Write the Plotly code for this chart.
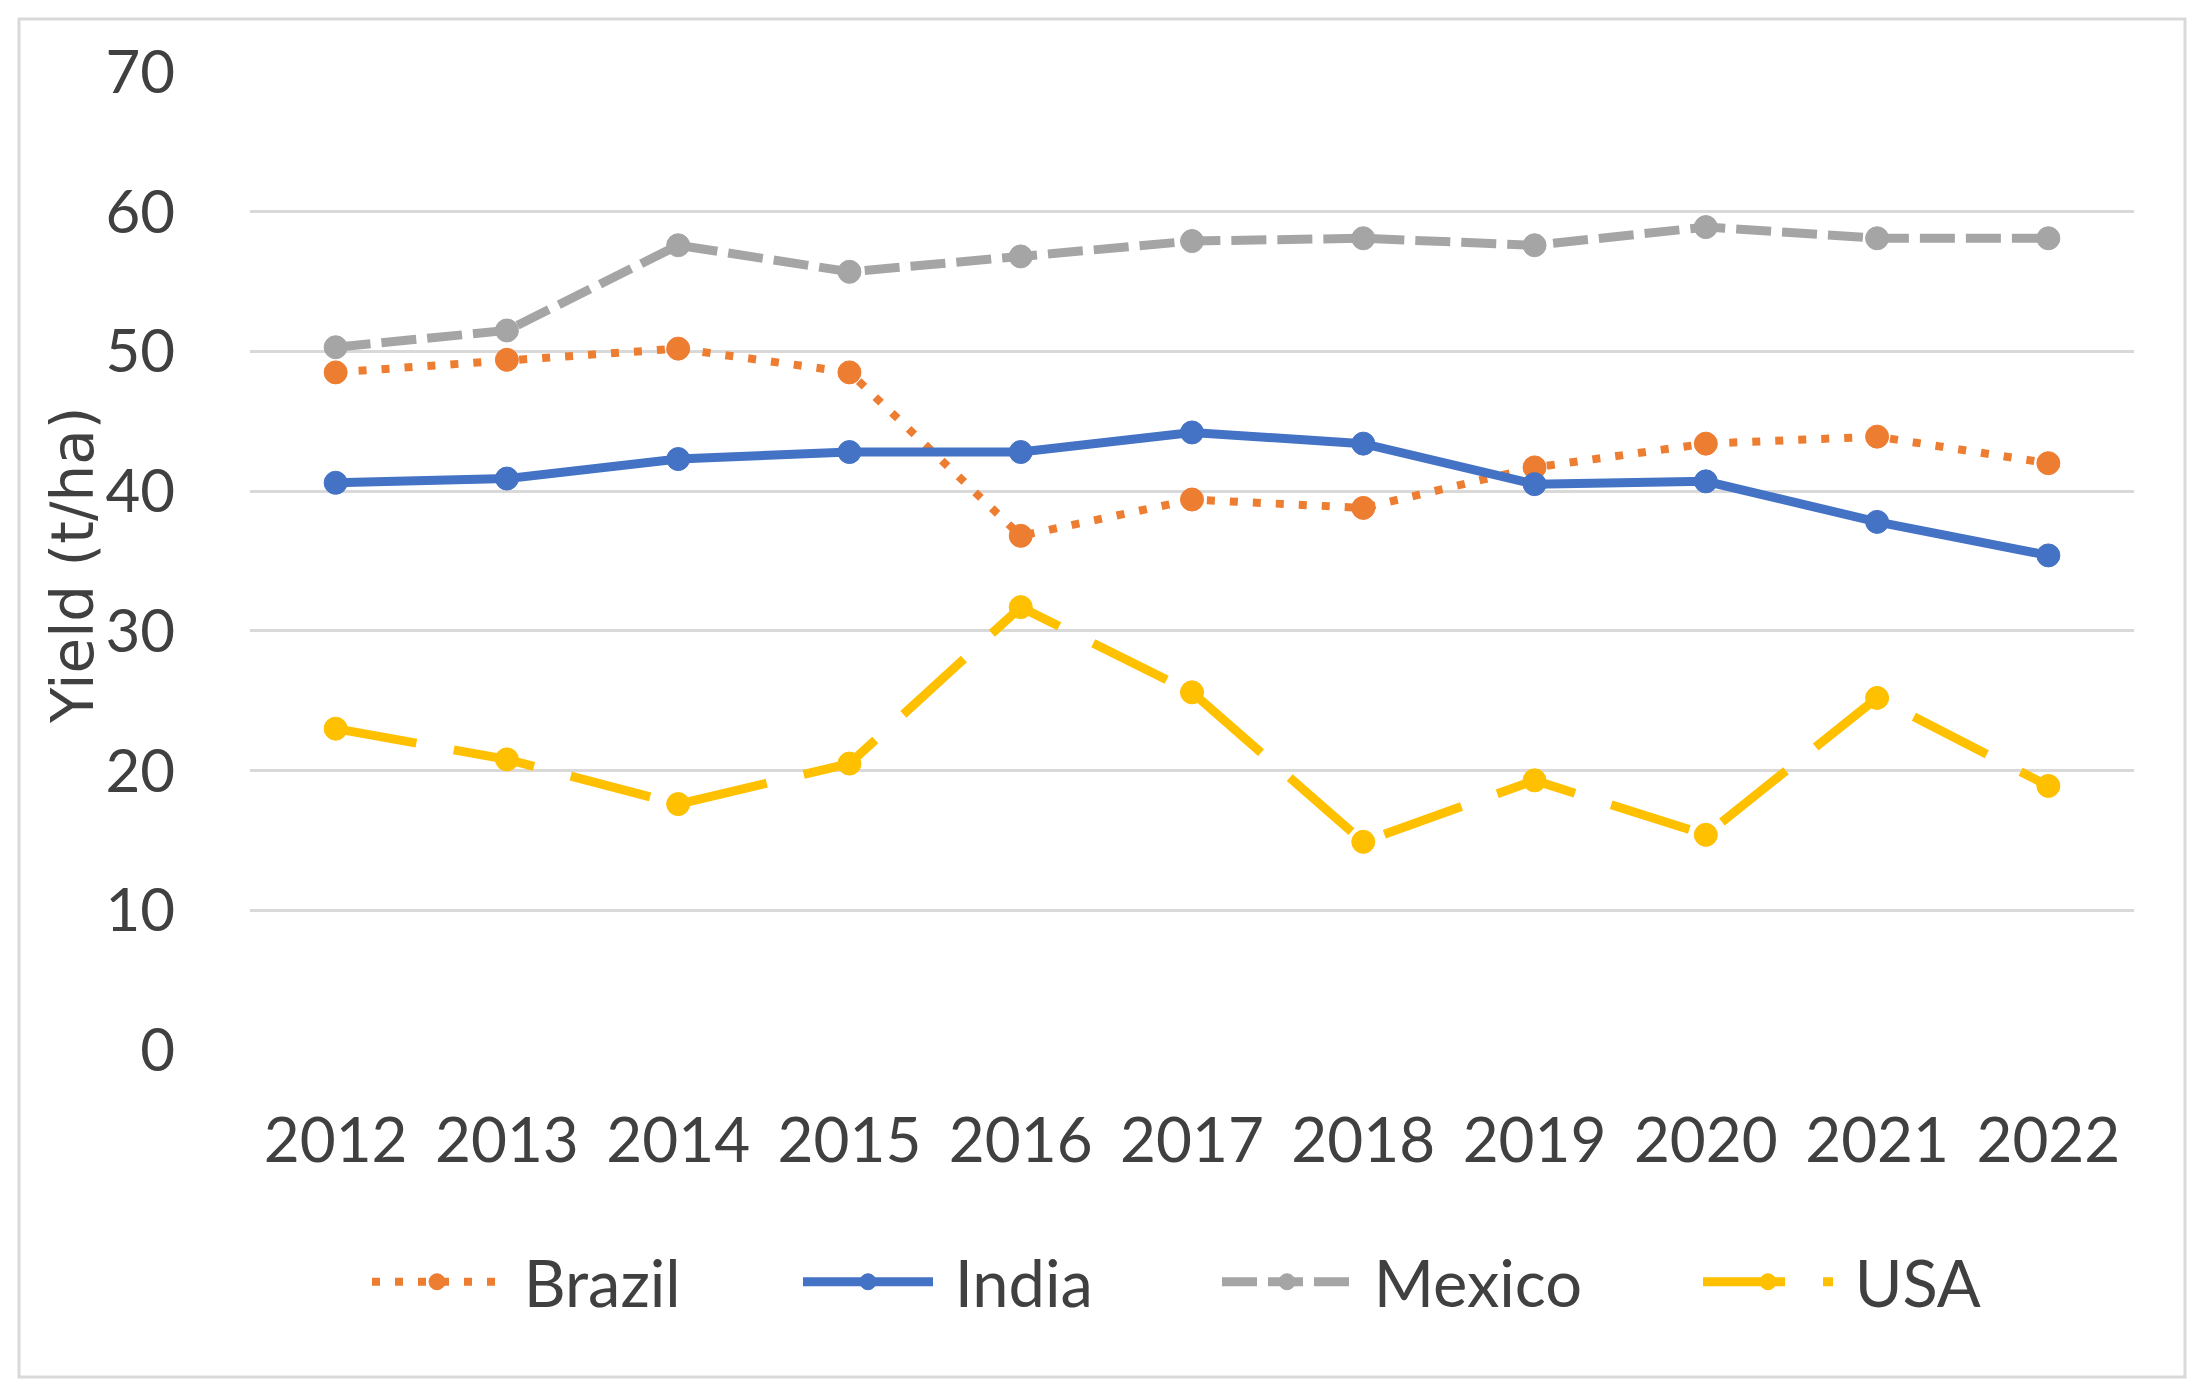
import plotly.graph_objects as go

years = ["2012", "2013", "2014", "2015", "2016", "2017", "2018", "2019", "2020", "2021", "2022"]
brazil = [48.5, 49.4, 50.2, 48.5, 36.8, 39.4, 38.8, 41.7, 43.4, 43.9, 42.0]
india = [40.6, 40.9, 42.3, 42.8, 42.8, 44.2, 43.4, 40.5, 40.7, 37.8, 35.4]
mexico = [50.3, 51.5, 57.6, 55.7, 56.8, 57.9, 58.1, 57.6, 58.9, 58.1, 58.1]
usa = [23.0, 20.8, 17.6, 20.5, 31.7, 25.6, 14.9, 19.3, 15.4, 25.2, 18.9]

y_ticks = [0, 10, 20, 30, 40, 50, 60, 70]

series = [
    ("Brazil", brazil, "#ED7D31", "8px,15px", 8, 286),
    ("India", india, "#4472C4", "solid", 9, 274),
    ("Mexico", mexico, "#A5A5A5", "35px,11px", 9, 336),
    ("USA", usa, "#FFC000", "82px,38px", 9, 140),
]

W, H = 2204, 1394
L, R, T, B = 250, 70, 72, 344
pw, ph = W - L - R, H - T - B

fig = go.Figure()
for name, vals, color, dash, lw, lgw in series:
    fig.add_trace(go.Scatter(
        x=years, y=vals, name="\u00a0" + name, mode="lines+markers",
        line=dict(color=color, width=lw, dash=dash),
        marker=dict(color=color, size=23, line=dict(color=color, width=1)),
        legendwidth=lgw,
    ))

def px_x(px):
    return (px - L) / pw

def px_y(py):
    return (H - B - py) / ph

fig.add_shape(type="rect", xref="paper", yref="paper",
              x0=px_x(19), x1=px_x(2185), y0=px_y(1377), y1=px_y(19),
              line=dict(color="#D9D9D9", width=3), layer="below")

fig.add_annotation(text="Yield (t/ha)", xref="paper", yref="paper",
                   x=px_x(73), y=px_y(566), xanchor="center", yanchor="middle",
                   textangle=-90, showarrow=False,
                   font=dict(family="DejaVu Sans", size=58, color="#404040"))

tickfont = dict(family="Lato", size=62, color="#404040")
fig.update_layout(
    width=W, height=H,
    margin=dict(l=L, r=R, t=T, b=B, pad=0),
    paper_bgcolor="white", plot_bgcolor="white",
    showlegend=True,
    legend=dict(orientation="h", x=px_x(1175), xanchor="center",
                y=px_y(1282), yanchor="middle",
                font=dict(family="Lato", size=65, color="#404040"),
                itemwidth=130, bgcolor="rgba(0,0,0,0)"),
    xaxis=dict(type="category", range=[-0.5, 10.5], showgrid=False,
               showline=False, zeroline=False, tickfont=tickfont,
               ticks="outside", ticklen=37, tickcolor="rgba(0,0,0,0)"),
    yaxis=dict(range=[0, 70], tickvals=y_ticks, showgrid=True,
               gridcolor="#D9D9D9", gridwidth=3, zeroline=False,
               showline=False, tickfont=dict(family="Lato", size=60, color="#404040"),
               ticks="outside", ticklen=62, tickcolor="rgba(0,0,0,0)"),
)

fig.write_html("out.html", config={"displayModeBar": False},
               post_script="document.body.style.margin='0';")
